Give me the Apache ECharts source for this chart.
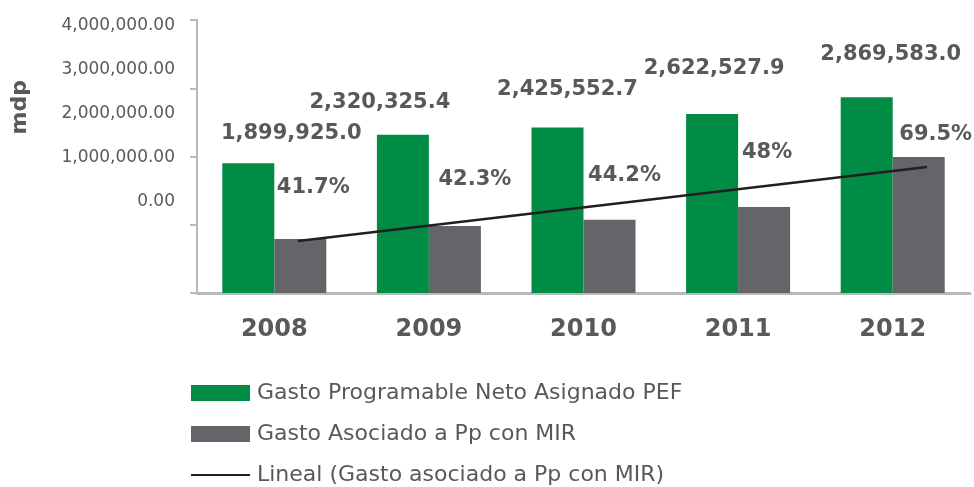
<!DOCTYPE html>
<html>
<head>
<meta charset="utf-8">
<script src="https://cdn.jsdelivr.net/npm/echarts@6/dist/echarts.min.js"></script>
<style>
  html, body { margin: 0; padding: 0; background: #fff; }
  #chart { width: 974px; height: 487px; }
</style>
</head>
<body>
<div id="chart"></div>
<script>
const years = ['2008', '2009', '2010', '2011', '2012']
const gastoPEF = [1899925.0, 2320325.4, 2425552.7, 2622527.9, 2869583.0]
const gastoMIR = [792000, 981500, 1072100, 1258800, 1994400]
const pctMIR = ['41.7%', '42.3%', '44.2%', '48%', '69.5%']
const lineal = [762000, 1033000, 1304000, 1575000, 1846000]
const yTicks = [0, 1000000, 2000000, 3000000, 4000000]

// label nudges (px)
const pefLabelOffsets = [[43, -14], [-23, -17], [10, -22], [2, -30], [24, -27]]
const mirLabelOffsets = [[13, -36], [20, -31], [15, -29], [3, -39], [17, -7]]

const names = [
  'Gasto Programable Neto Asignado PEF',
  'Gasto Asociado a Pp con MIR',
  'Lineal (Gasto asociado a Pp con MIR)'
]
const textColor = '#58595b'
const axisColor = '#b9b9bc'

function fmtMoney(v, dec) {
  const parts = v.toFixed(dec).split('.')
  parts[0] = parts[0].replace(/\B(?=(\d{3})+(?!\d))/g, ',')
  return parts.join('.')
}

const chart = echarts.init(document.getElementById('chart'))
chart.setOption({
  animation: false,
  textStyle: { fontFamily: 'DejaVu Sans' },
  legend: {
    orient: 'vertical',
    left: 190,
    top: 382,
    padding: 0,
    itemWidth: 59,
    itemHeight: 16,
    itemGap: 19,
    textStyle: { fontSize: 22, color: textColor, padding: [0, 0, 0, 2] },
    data: [
      { name: names[0], icon: 'rect' },
      { name: names[1], icon: 'rect' },
      { name: names[2], itemStyle: { opacity: 0 } }
    ]
  },
  graphic: [{
    type: 'text',
    left: 9,
    top: 80,
    rotation: Math.PI / 2,
    style: { text: 'mdp', font: 'bold 22px "DejaVu Sans"', fill: textColor }
  }],
  grid: [
    { left: 197, right: 4, top: 20, bottom: 194 },
    // trend line runs from the first grey bar to the last one
    { left: 298, right: 47, top: 20, bottom: 194 }
  ],
  xAxis: [{
    type: 'category',
    gridIndex: 0,
    data: years,
    axisLine: { lineStyle: { color: axisColor, width: 3 } },
    axisTick: { show: false },
    axisLabel: { fontSize: 24, fontWeight: 'bold', color: textColor, margin: 25 }
  }, {
    type: 'category',
    gridIndex: 1,
    boundaryGap: false,
    data: years,
    show: false
  }],
  yAxis: [{
    type: 'value',
    gridIndex: 0,
    min: 0,
    max: 4000000,
    interval: 1000000,
    axisLine: { show: true, lineStyle: { color: axisColor, width: 2 } },
    axisTick: { show: true, inside: false, length: 7, lineStyle: { color: axisColor, width: 2 } },
    axisLabel: { show: false },
    splitLine: { show: false }
  }, {
    // labels only: they sit off the tick marks in the source
    type: 'value',
    gridIndex: 0,
    position: 'left',
    min: -2068000,
    max: 4136000,
    axisLine: { show: false },
    axisTick: { show: false },
    splitLine: { show: false },
    axisLabel: {
      customValues: yTicks,
      fontSize: 17,
      color: textColor,
      margin: 22,
      formatter: v => (v < 0 ? '' : fmtMoney(v, 2))
    }
  }, {
    type: 'value',
    gridIndex: 1,
    min: 0,
    max: 4000000,
    show: false
  }],
  series: [{
    name: names[0],
    type: 'bar',
    xAxisIndex: 0,
    yAxisIndex: 0,
    barWidth: 52,
    barGap: '0%',
    itemStyle: { color: '#008c45' },
    data: gastoPEF.map((v, i) => ({
      value: v,
      label: { offset: pefLabelOffsets[i] }
    })),
    label: {
      show: true,
      position: 'top',
      distance: 5,
      fontSize: 21,
      fontWeight: 'bold',
      color: textColor,
      formatter: p => fmtMoney(p.value, 1)
    }
  }, {
    name: names[1],
    type: 'bar',
    xAxisIndex: 0,
    yAxisIndex: 0,
    barWidth: 52,
    barGap: '0%',
    itemStyle: { color: '#636569' },
    data: gastoMIR.map((v, i) => ({
      value: v,
      label: { offset: mirLabelOffsets[i] }
    })),
    label: {
      show: true,
      position: 'top',
      distance: 5,
      fontSize: 21,
      fontWeight: 'bold',
      color: textColor,
      formatter: p => pctMIR[p.dataIndex]
    }
  }, {
    name: names[2],
    type: 'line',
    xAxisIndex: 1,
    yAxisIndex: 2,
    symbol: 'none',
    lineStyle: { color: '#231f20', width: 2.5 },
    itemStyle: { color: '#231f20' },
    data: lineal
  }]
})
</script>
</body>
</html>
